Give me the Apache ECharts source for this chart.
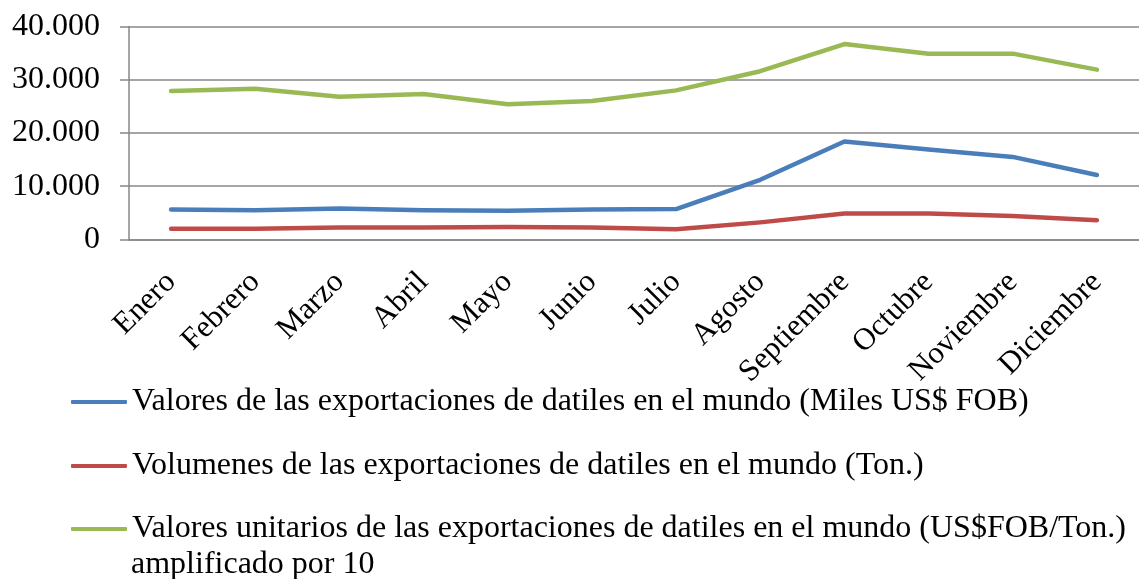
<!DOCTYPE html>
<html>
<head>
<meta charset="utf-8">
<script src="https://cdn.jsdelivr.net/npm/echarts@6/dist/echarts.min.js"></script>
<style>
  html, body { margin: 0; padding: 0; background: #fff; }
  #chart { width: 1139px; height: 579px; }
</style>
</head>
<body>
<div id="chart"></div>
<script>
const months = ['Enero', 'Febrero', 'Marzo', 'Abril', 'Mayo', 'Junio', 'Julio',
  'Agosto', 'Septiembre', 'Octubre', 'Noviembre', 'Diciembre']

const valores = [5600, 5500, 5800, 5500, 5400, 5600, 5700, 11200, 18400, 16900, 15500, 12100]
const volumenes = [2000, 2000, 2250, 2250, 2350, 2250, 1900, 3200, 4850, 4850, 4400, 3600]
const unitarios = [27900, 28300, 26800, 27300, 25400, 26000, 28000, 31600, 36700, 34900, 34900, 31900]

const yTicks = [0, 10000, 20000, 30000, 40000]

const names = [
  'Valores de las exportaciones de datiles en el mundo (Miles US$ FOB)',
  'Volumenes de las exportaciones de datiles en el mundo (Ton.)',
  'Valores unitarios de las exportaciones de datiles en el mundo (US$FOB/Ton.)'
]
const colors = ['#4a7ebb', '#be4b48', '#98b954']

const font = '"Liberation Serif", "Times New Roman", serif'
const gray = '#878787'

const chart = echarts.init(document.getElementById('chart'))

function legendAt(i, center) {
  return {
    data: [names[i]],
    left: 71,
    top: center - 18,
    padding: 0,
    icon: 'roundRect',
    itemWidth: 56,
    itemHeight: 4,
    itemGap: 0,
    textStyle: { fontFamily: font, fontSize: 32, color: '#000', lineHeight: 36 }
  }
}

chart.setOption({
  animation: false,
  color: colors,
  grid: { left: 129, right: -10, top: 26.5, bottom: 339.6 },
  legend: [legendAt(0, 402), legendAt(1, 466), legendAt(2, 529)],
  graphic: [{
    type: 'text',
    left: 131,
    top: 549,
    style: { text: 'amplificado por 10', font: '32px ' + font, fill: '#000' }
  }],
  xAxis: {
    type: 'category',
    data: months,
    axisLine: { lineStyle: { color: gray, width: 1.5 } },
    axisTick: { length: 9, lineStyle: { color: gray, width: 1.5 } },
    axisLabel: { rotate: 45, fontFamily: font, fontSize: 31, color: '#000', margin: 38 }
  },
  yAxis: {
    type: 'value',
    min: yTicks[0],
    max: yTicks[yTicks.length - 1],
    interval: 10000,
    axisLine: { show: true, lineStyle: { color: gray, width: 1.5 } },
    axisTick: { show: true, length: 9, lineStyle: { color: gray, width: 1.5 } },
    splitLine: { lineStyle: { color: gray, width: 1.5 } },
    axisLabel: {
      fontFamily: font, fontSize: 32, color: '#000', margin: 29,
      formatter: v => v === 0 ? '0' : String(v).replace(/\B(?=(\d{3})+(?!\d))/g, '.')
    }
  },
  series: [valores, volumenes, unitarios].map((d, i) => ({
    name: names[i],
    type: 'line',
    data: d,
    symbol: 'none',
    lineStyle: { width: 4.5, cap: 'round', join: 'round' }
  }))
})
</script>
</body>
</html>
